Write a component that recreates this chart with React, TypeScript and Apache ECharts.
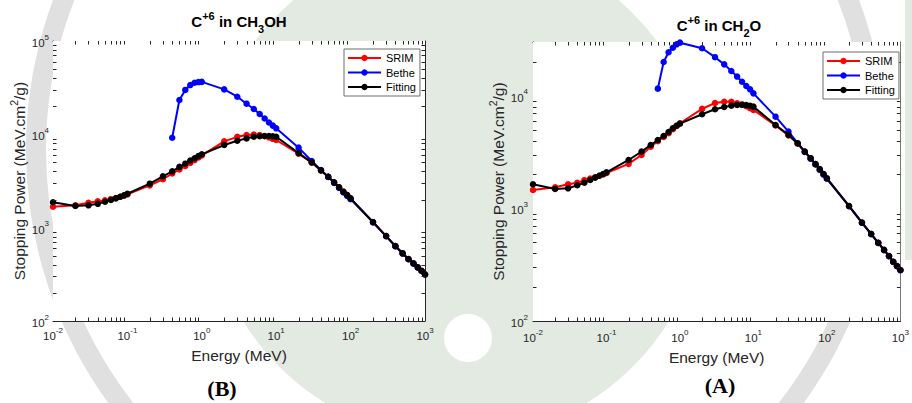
import React, { useEffect, useRef } from 'react';
import * as echarts from 'echarts';

const FONT = "'Liberation Sans', Arial, Helvetica, sans-serif";

// Energies (MeV)
const energy = [
  0.01, 0.02, 0.03, 0.04, 0.05, 0.06, 0.07, 0.08, 0.09,
  0.1, 0.2, 0.3, 0.4, 0.5, 0.6, 0.7, 0.8, 0.9,
  1, 2, 3, 4, 5, 6, 7, 8, 9,
  10, 20, 30, 40, 50, 60, 70, 80, 90,
  100, 200, 300, 400, 500, 600, 700, 800, 900, 1000,
];

// Panel (B): C+6 in CH3OH
const srimCH3OH = [
  1675, 1740, 1850, 1915, 1960, 2020, 2080, 2140, 2200,
  2270, 2840, 3300, 3800, 4200, 4580, 4950, 5300, 5650,
  5950, 8400, 9400, 9850, 9950, 9800, 9550, 9250, 8950,
  8700, 6200, 4980, 4100, 3500, 3050, 2700, 2420, 2230,
  2050, 1145, 812, 634, 530, 460, 413, 375, 344, 316,
];
const betheCH3OH = [
  null, null, null, null, null, null, null, null, null,
  null, null, null, 9200, 23300, 29900, 33700, 35700, 36300,
  36500, 30300, 25300, 21300, 18700, 16500, 14800, 13400, 12400,
  11600, 7200, 5180, 4140, 3500, 3020, 2670, 2390, 2190,
  2020, 1140, 812, 633, 529, 459, 412, 374, 343, 315,
];
const fitCH3OH = [
  1870, 1710, 1735, 1800, 1895, 1980, 2060, 2145, 2220,
  2310, 2960, 3550, 4010, 4480, 4850, 5250, 5550, 5850,
  6110, 7680, 8530, 9050, 9430, 9550, 9600, 9600, 9550,
  9430, 6300, 5010, 4110, 3510, 3060, 2710, 2430, 2240,
  2060, 1150, 813, 635, 531, 461, 414, 376, 345, 315,
];

// Panel (A): C+6 in CH2O
const srimCH2O = [
  1455, 1540, 1637, 1690, 1780, 1837, 1890, 1950, 2000,
  2060, 2480, 2980, 3530, 3950, 4300, 4650, 5050, 5400,
  5700, 7640, 8620, 8850, 8850, 8570, 8400, 8080, 7750,
  7480, 5450, 4450, 3750, 3180, 2780, 2470, 2215, 2015,
  1845, 1048, 746, 592, 494, 427, 377, 335, 307, 283,
];
const betheCH2O = [
  null, null, null, null, null, null, null, null, null,
  null, null, null, null, 11560, 19950, 24300, 26700, 28600,
  29600, 26400, 22000, 19000, 16600, 14800, 13300, 12200, 11400,
  10500, 6520, 4800, 3790, 3170, 2760, 2450, 2190, 1990,
  1830, 1045, 745, 591, 493, 426, 376, 334, 306, 282,
];
const fitCH2O = [
  1637, 1485, 1506, 1603, 1690, 1785, 1874, 1950, 2020,
  2090, 2690, 3190, 3650, 4050, 4390, 4770, 5140, 5420,
  5650, 6850, 7590, 7950, 8170, 8290, 8290, 8250, 8150,
  8000, 5500, 4490, 3790, 3190, 2790, 2480, 2230, 2020,
  1850, 1050, 747, 593, 495, 428, 378, 336, 308, 284,
];

// Minor tick positions
const xMinor = [
  0.02, 0.03, 0.04, 0.05, 0.06, 0.07, 0.08, 0.09,
  0.2, 0.3, 0.4, 0.5, 0.6, 0.7, 0.8, 0.9,
  2, 3, 4, 5, 6, 7, 8, 9,
  20, 30, 40, 50, 60, 70, 80, 90,
  200, 300, 400, 500, 600, 700, 800, 900,
];
const yMinorB = [
  200, 300, 400, 500, 600, 700, 800, 900,
  2000, 3000, 4000, 5000, 6000, 7000, 8000, 9000,
  20000, 30000, 40000, 50000, 60000, 70000, 80000, 90000,
];
const yMinorA = [
  200, 300, 400, 500, 600, 700, 800, 900,
  2000, 3000, 4000, 5000, 6000, 7000, 8000, 9000,
  20000,
];

const legendNames = ['SRIM', 'Bethe', 'Fitting'];
const colors = { SRIM: '#ff0000', Bethe: '#0000ff', Fitting: '#000000' };

const AX = '#262626';
const WM_GREEN = '#e2eae2';
const WM_GRAY = '#e0e0e0';

const powFmt = (v: number) => {
  const l = Math.log10(v);
  const e = Math.round(l);
  if (Math.abs(l - e) > 1e-6) return '';
  return `{b|10}{s|${e}}`;
};

const tickRich = {
  b: { fontSize: 11.5, fontFamily: FONT, color: AX, verticalAlign: 'top', padding: [4, 0, 0, 0] },
  s: { fontSize: 8, fontFamily: FONT, color: AX, verticalAlign: 'top', padding: [0, 0, 0, 0] },
};

const yNameRich = {
  n: { fontSize: 15.5, fontFamily: FONT, color: AX, verticalAlign: 'top', padding: [3, 0, 0, 0] },
  s: { fontSize: 10.5, fontFamily: FONT, color: AX, verticalAlign: 'top', padding: [0, 0, 0, 0] },
};

const titleRich = {
  b: { fontSize: 15, fontWeight: 'bold', fontFamily: FONT, color: '#000', verticalAlign: 'top', padding: [3.5, 0, 0, 0] },
  p: { fontSize: 11, fontWeight: 'bold', fontFamily: FONT, color: '#000', verticalAlign: 'top', padding: [0, 0, 0, 0] },
  q: { fontSize: 11, fontWeight: 'bold', fontFamily: FONT, color: '#000', verticalAlign: 'top', padding: [13, 0, 0, 0] },
};

function xAxes(gridIndex: number, nameGap: number, labelMargin: number) {
  const base = {
    gridIndex,
    type: 'log',
    logBase: 10,
    min: 0.01,
    max: 1000,
    splitLine: { show: false },
    axisLine: { show: true, onZero: false, lineStyle: { color: AX, width: 1 } },
    axisTick: { show: true, inside: true, length: 6, lineStyle: { color: AX } },
  };
  return [
    {
      ...base,
      position: 'bottom',
      axisLabel: { show: true, margin: labelMargin, formatter: powFmt, rich: tickRich },
      name: 'Energy (MeV)',
      nameLocation: 'middle',
      nameGap,
      nameTextStyle: { fontSize: 15.5, fontFamily: FONT, color: AX, lineHeight: 18 },
    },
    { ...base, position: 'top', axisLabel: { show: false } },
  ];
}

function yAxes(gridIndex: number, max: number, labelMargin: number) {
  const base = {
    gridIndex,
    type: 'log',
    logBase: 10,
    min: 100,
    max,
    splitLine: { show: false },
    axisLine: { show: true, onZero: false, lineStyle: { color: AX, width: 1 } },
    axisTick: { show: true, inside: true, length: 6, lineStyle: { color: AX } },
  };
  return [
    {
      ...base,
      position: 'left',
      axisLabel: { show: true, margin: labelMargin, formatter: powFmt, rich: tickRich },
      name: '{n|Stopping Power (MeV.cm}{s|2}{n|/g)}',
      nameLocation: 'middle',
      nameGap: 26,
      nameTextStyle: { rich: yNameRich },
    },
    { ...base, position: 'right', axisLabel: { show: false } },
  ];
}

function lineSeries(name: string, values: (number | null)[], xi: number, yi: number, z: number) {
  const c = (colors as any)[name];
  return {
    type: 'line',
    name,
    xAxisIndex: xi,
    yAxisIndex: yi,
    z,
    data: energy.map((e, i) => [e, values[i]]).filter((d) => d[1] != null),
    symbol: 'circle',
    symbolSize: 6.5,
    showSymbol: true,
    lineStyle: { color: c, width: 2 },
    itemStyle: { color: c },
    emphasis: { disabled: true },
  };
}

function minorSeries(xi: number, yi: number, yMinor: number[]) {
  return {
    type: 'custom',
    name: 'minor',
    xAxisIndex: xi,
    yAxisIndex: yi,
    silent: true,
    clip: false,
    z: 10,
    encode: { x: 0, y: 1 },
    data: [...xMinor.map((v) => [v, 1000, 0]), ...yMinor.map((v) => [1, v, 1])],
    renderItem: (params: any, api: any) => {
      const cs = params.coordSys;
      const p = api.coord([api.value(0), api.value(1)]);
      const st = { stroke: AX, lineWidth: 1 };
      const L = 3.5;
      if (api.value(2) === 0) {
        const x = Math.round(p[0]) + 0.5;
        return {
          type: 'group',
          children: [
            { type: 'line', shape: { x1: x, y1: cs.y + cs.height, x2: x, y2: cs.y + cs.height - L }, style: st },
            { type: 'line', shape: { x1: x, y1: cs.y, x2: x, y2: cs.y + L }, style: st },
          ],
        };
      }
      const y = Math.round(p[1]) + 0.5;
      return {
        type: 'group',
        children: [
          { type: 'line', shape: { x1: cs.x, y1: y, x2: cs.x + L, y2: y }, style: st },
          { type: 'line', shape: { x1: cs.x + cs.width, y1: y, x2: cs.x + cs.width - L, y2: y }, style: st },
        ],
      };
    },
  };
}

function legendAt(left: number, top: number) {
  return {
    orient: 'vertical',
    left,
    top,
    z: 20,
    data: legendNames,
    itemWidth: 33,
    itemHeight: 8,
    itemGap: 2.5,
    padding: [3, 4, 3, 3],
    borderColor: '#6e6e6e',
    borderWidth: 1,
    backgroundColor: '#ffffff',
    selectedMode: false,
    textStyle: { fontSize: 11, fontFamily: FONT, color: '#000', lineHeight: 12 },
  };
}

export default function App() {
  const ref = useRef<HTMLDivElement>(null);
  useEffect(() => {
    if (!ref.current) return;
    const chart = echarts.init(ref.current, undefined, { renderer: 'svg' });
    chart.setOption({
      animation: false,
      backgroundColor: '#ffffff',
      title: [
        {
          text: '{b|C}{p|+6}{b| in CH}{q|3}{b|OH}',
          left: 239,
          top: 10.3,
          textAlign: 'center',
          padding: 0,
          textStyle: { rich: titleRich },
        },
        {
          text: '{b|C}{p|+6}{b| in CH}{q|2}{b|O}',
          left: 719,
          top: 14,
          textAlign: 'center',
          padding: 0,
          textStyle: { rich: titleRich },
        },
      ],
      legend: [legendAt(344, 49), legendAt(823, 52)],
      grid: [
        { left: 53, top: 41, width: 372, height: 280, containLabel: false, show: true, backgroundColor: '#ffffff', borderWidth: 0, z: 1 },
        { left: 533, top: 42, width: 372, height: 279, containLabel: false, show: true, backgroundColor: '#ffffff', borderWidth: 0, z: 1 },
      ],
      xAxis: [...xAxes(0, 24.7, 5), ...xAxes(1, 17, 7)],
      yAxis: [...yAxes(0, 100000, 4), ...yAxes(1, 30000, 5)],
      series: [
        lineSeries('SRIM', srimCH3OH, 0, 0, 2),
        lineSeries('Bethe', betheCH3OH, 0, 0, 3),
        lineSeries('Fitting', fitCH3OH, 0, 0, 4),
        lineSeries('SRIM', srimCH2O, 2, 2, 2),
        lineSeries('Bethe', betheCH2O, 2, 2, 3),
        lineSeries('Fitting', fitCH2O, 2, 2, 4),
        minorSeries(0, 0, yMinorB),
        minorSeries(2, 2, yMinorA),
      ],
      graphic: [
        // faint watermark behind the plots
        { type: 'circle', z: -10, silent: true, shape: { cx: 456, cy: 190, r: 250 }, style: { fill: WM_GREEN } },
        { type: 'circle', z: -9, silent: true, shape: { cx: 468, cy: 338, r: 24 }, style: { fill: '#ffffff' } },
        { type: 'rect', z: -10, silent: true, shape: { x: 905, y: 0, width: 7, height: 260 }, style: { fill: WM_GREEN } },
        { type: 'circle', z: -8, silent: true, shape: { cx: 456, cy: 150, r: 420 }, style: { fill: 'none', stroke: WM_GRAY, lineWidth: 20 } },
        {
          type: 'text',
          z: 30,
          x: 222,
          y: 388,
          style: {
            text: '(B)',
            font: "bold 22px 'Liberation Serif', 'Times New Roman', serif",
            fill: '#000',
            align: 'center',
            verticalAlign: 'middle',
            textAlign: 'center',
            textVerticalAlign: 'middle',
          },
        },
        {
          type: 'text',
          z: 30,
          x: 720,
          y: 385,
          style: {
            text: '(A)',
            font: "bold 22px 'Liberation Serif', 'Times New Roman', serif",
            fill: '#000',
            align: 'center',
            verticalAlign: 'middle',
            textAlign: 'center',
            textVerticalAlign: 'middle',
          },
        },
      ],
    });
    return () => chart.dispose();
  }, []);
  return (
    <div
      ref={ref}
      style={{ position: 'fixed', left: 0, top: 0, width: 912, height: 403 }}
    />
  );
}
